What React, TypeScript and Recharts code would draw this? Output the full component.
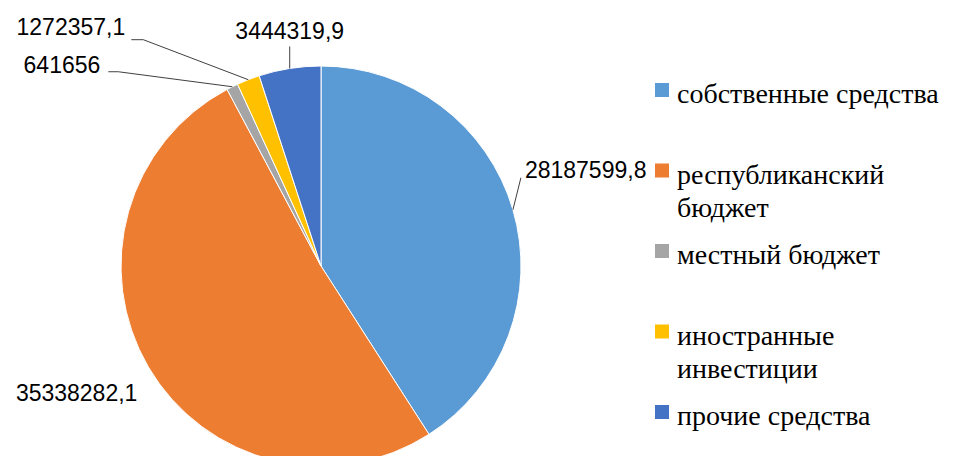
import React from 'react';
import { PieChart, Pie, Cell } from 'recharts';

const categories = [
  'собственные средства',
  'республиканский бюджет',
  'местный бюджет',
  'иностранные инвестиции',
  'прочие средства',
];
const values = [28187599.8, 35338282.1, 641656, 1272357.1, 3444319.9];
const colors = ['#5B9BD5', '#ED7D31', '#A5A5A5', '#FFC000', '#4472C4'];

const data = categories.map((name, i) => ({ name, value: values[i] }));

// label layout offsets relative to the slice's outer edge at its mid angle
const labelLayout: any[] = [
  { line: [8, -32], tail: 0, text: [4, -8], anchor: 'start' },
  { line: null, tail: 0, text: [-11, 26], anchor: 'end' },
  { line: [-114, -15], tail: -10, text: [-8, -7], anchor: 'end' },
  { line: [-105, -40], tail: -12, text: [-6, -13], anchor: 'end' },
  { line: [0, -22], tail: 0, text: [0, -15], anchor: 'middle' },
];

const RAD = Math.PI / 180;
const fmt = (v: number) => String(v).replace('.', ',');

const renderLabel = (props: any) => {
  const { cx, cy, midAngle, outerRadius, index, value } = props;
  const ex = cx + outerRadius * Math.cos(-midAngle * RAD);
  const ey = cy + outerRadius * Math.sin(-midAngle * RAD);
  const L = labelLayout[index];
  let px = ex;
  let py = ey;
  let pts = '';
  if (L.line) {
    const mx = ex + L.line[0];
    const my = ey + L.line[1];
    const tx = mx + L.tail;
    pts = `${ex},${ey} ${mx},${my} ${tx},${my}`;
    px = tx;
    py = my;
  }
  return (
    <g key={`lbl-${index}`}>
      {pts && <polyline points={pts} fill="none" stroke="#404040" strokeWidth={1} />}
      <text
        x={px + L.text[0]}
        y={py + L.text[1]}
        textAnchor={L.anchor}
        dominantBaseline="central"
        fontFamily="Liberation Sans"
        fontSize={23}
        fill="#000"
      >
        {fmt(value)}
      </text>
    </g>
  );
};

// wrap legend names longer than the legend column into two lines
const wrapName = (s: string) => (s.length > 20 ? s.split(' ') : [s]);

function LegendBox() {
  const x0 = 655;
  const y0 = 83;
  const step = 80.5;
  return (
    <svg
      width={300}
      height={464}
      viewBox={`${x0} 0 300 464`}
      style={{ position: 'absolute', left: x0, top: 0 }}
    >
      {categories.map((c, i) => {
        const top = y0 + step * i;
        return (
          <g key={c}>
            <rect x={x0} y={top} width={14} height={14} fill={colors[i]} />
            <text x={x0 + 22} y={top + 20} fontFamily="Liberation Serif" fontSize={28} fill="#000">
              {wrapName(c).map((ln, k) => (
                <tspan key={k} x={x0 + 22} dy={k === 0 ? 0 : 33}>
                  {ln}
                </tspan>
              ))}
            </text>
          </g>
        );
      })}
    </svg>
  );
}

export default function App() {
  return (
    <div style={{ margin: -8, width: 955, height: 464, background: '#fff', position: 'relative' }}>
      <PieChart width={955} height={464} margin={{ top: 0, right: 0, bottom: 0, left: 0 }}>
        <Pie
          data={data}
          dataKey="value"
          nameKey="name"
          cx={321}
          cy={266}
          outerRadius={200}
          startAngle={90}
          endAngle={-270}
          stroke="#fff"
          strokeWidth={1}
          label={renderLabel}
          labelLine={false}
          isAnimationActive={false}
        >
          {data.map((d, i) => (
            <Cell key={d.name} fill={colors[i]} />
          ))}
        </Pie>
      </PieChart>
      <LegendBox />
    </div>
  );
}
